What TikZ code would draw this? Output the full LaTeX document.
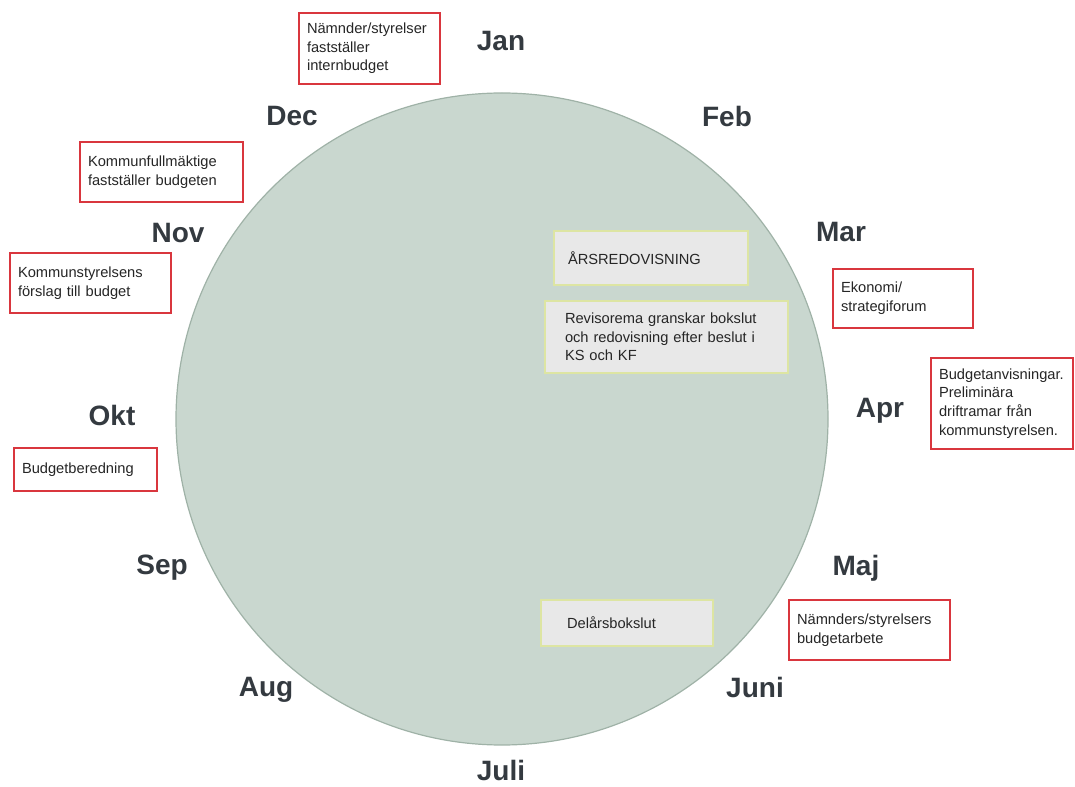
\documentclass[tikz,border=0pt]{standalone}
\usepackage{fontspec}
\setmainfont{Liberation Sans}
\usepackage{xcolor}
\usepackage{tikz}
\usetikzlibrary{positioning}

\definecolor{wheelfill}{HTML}{C9D7CF}
\definecolor{wheeldraw}{HTML}{9FB2A7}
\definecolor{monthcol}{HTML}{343A40}
\definecolor{redline}{HTML}{D9363E}
\definecolor{greyfill}{HTML}{E8E8E8}
\definecolor{greyline}{HTML}{DDE5A3}

\begin{document}
\begin{tikzpicture}[
    x=0.75pt, y=-0.75pt,
    month/.style={font=\fontsize{21}{25}\selectfont\bfseries, text=monthcol, inner sep=0pt},
    redbox/.style={draw=redline, fill=white, line width=1.2pt, align=left,
      font=\fontsize{11}{14}\selectfont, text=black!85, inner xsep=6pt, inner ysep=2pt},
    greybox/.style={draw=greyline, fill=greyfill, line width=1.2pt, align=left,
      font=\fontsize{11}{14}\selectfont, text=black!85, inner ysep=2pt}
  ]
    \useasboundingbox (0,0) rectangle (1075,787);

    % the year wheel
    \node[circle, draw=wheeldraw, fill=wheelfill, line width=0.9pt,
      minimum size=489pt, inner sep=0pt] (wheel) at (502,419) {};

    % months
    \node[month] (jan) at (501,41) {Jan};
    \node[month] (feb) at (727,116) {Feb};
    \node[month] (mar) at (841,232) {Mar};
    \node[month] (apr) at (880,411) {Apr};
    \node[month] (maj) at (856,568) {Maj};
    \node[month] (jun) at (755,687) {Juni};
    \node[month] (jul) at (501,770) {Juli};
    \node[month] (aug) at (266,690) {Aug};
    \node[month] (sep) at (162,568) {Sep};
    \node[month] (okt) at (112,415) {Okt};
    \node[month] (nov) at (178,233) {Nov};
    \node[month] (dec) at (292,116) {Dec};

    % decisions and preparation
    \node[redbox, text width=93.75pt, minimum height=53.25pt] (internbudget) at (369.5,48.5) {
      Nämnder/styrelser\\
      fastställer\\
      internbudget
    };
    \node[redbox, text width=110.25pt, minimum height=45pt] (kfbudget) at (161.5,172) {
      Kommunfullmäktige\\
      fastställer budgeten
    };
    \node[redbox, text width=108.75pt, minimum height=45pt] (ksforslag) at (90.5,283) {
      Kommunstyrelsens\\
      förslag till budget
    };
    \node[redbox, text width=95.25pt, minimum height=32.25pt] (beredning) at (85.5,469.5) {
      Budgetberedning
    };
    \node[redbox, text width=93pt, minimum height=44.25pt] (forum) at (903,298.5) {
      Ekonomi/\\
      strategiforum
    };
    \node[redbox, text width=94.5pt, minimum height=68.25pt] (anvisningar) at (1002,403.5) {
      Budgetanvisningar.\\
      Preliminära\\
      driftramar från\\
      kommunstyrelsen.
    };
    \node[redbox, text width=108.75pt, minimum height=45pt] (budgetarbete) at (869.5,630) {
      Nämnders/styrelsers\\
      budgetarbete
    };

    % reporting
    \node[greybox, inner xsep=10.5pt, text width=124.5pt, minimum height=40.5pt] (arsred) at (651,258) {
      ÅRSREDOVISNING\\[4pt]
    };
    \node[greybox, inner xsep=15pt, text width=152.25pt, minimum height=54pt] (revision) at (666.5,337) {
      Revisorema granskar bokslut\\
      och redovisning efter beslut i\\
      KS och KF
    };
    \node[greybox, inner xsep=19.5pt, text width=90pt, minimum height=34.5pt] (delar) at (627,623) {
      Delårsbokslut
    };
  \end{tikzpicture}
\end{document}
